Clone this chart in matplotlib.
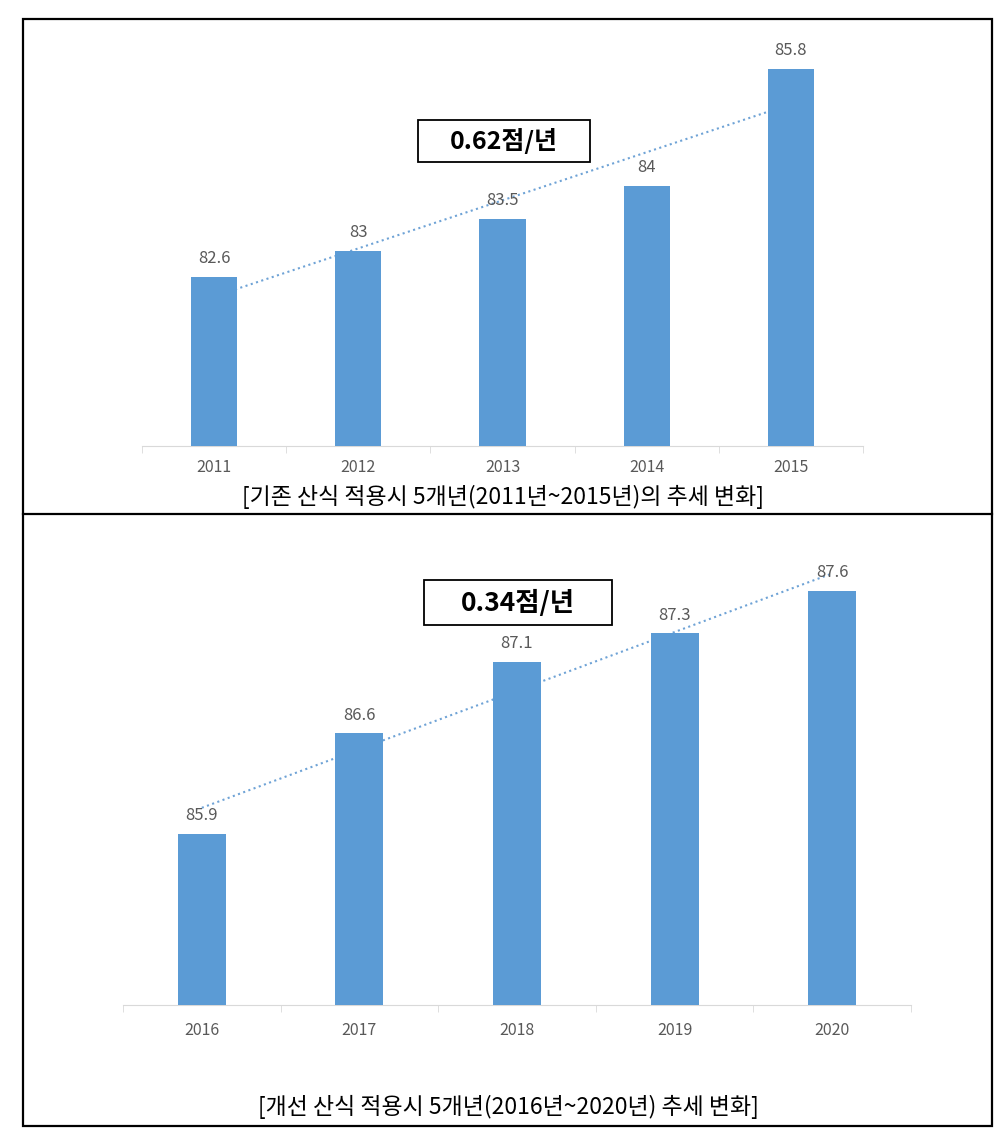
import numpy as np
import matplotlib.pyplot as plt
from matplotlib.patches import Rectangle
from matplotlib.lines import Line2D

plt.rcParams['font.family'] = ['Noto Sans CJK KR', 'DejaVu Sans']

# data
years_a = ['2011', '2012', '2013', '2014', '2015']
scores_a = [82.6, 83.0, 83.5, 84.0, 85.8]
rate_a = '0.62점/년'
caption_a = '[기존 산식 적용시 5개년(2011년~2015년)의 추세 변화]'

years_b = ['2016', '2017', '2018', '2019', '2020']
scores_b = [85.9, 86.6, 87.1, 87.3, 87.6]
rate_b = '0.34점/년'
caption_b = '[개선 산식 적용시 5개년(2016년~2020년) 추세 변화]'

BAR = '#5B9BD5'
TXT = '#595959'
W, H = 1006, 1135

fig = plt.figure(figsize=(W / 100, H / 100), dpi=100)


def px_axes(left, top, right, bottom):
    return fig.add_axes([left / W, 1 - bottom / H, (right - left) / W, (bottom - top) / H])


def draw_panel(ax, years, scores, ylim, width, pad):
    x = np.arange(len(years))
    ax.bar(x, scores, width=width, color=BAR, zorder=3)
    # linear trend line (Excel style)
    slope, icpt = np.polyfit(x, scores, 1)
    ax.plot(x, slope * x + icpt, ls=':', color='#6FA3D6', lw=1.5, zorder=2)
    for xi, v in zip(x, scores):
        ax.annotate(f'{v:g}', (xi, v), xytext=(0, 7), textcoords='offset points',
                    ha='center', va='bottom', fontsize=12, color=TXT)
    ax.set_xlim(-0.5, len(years) - 0.5)
    ax.set_ylim(*ylim)
    for s in ['top', 'left', 'right']:
        ax.spines[s].set_visible(False)
    ax.spines['bottom'].set_color('#D9D9D9')
    ax.set_yticks([])
    ax.set_xticks(x, years)
    ax.set_xticks(np.arange(-0.5, len(years), 1), minor=True)
    ax.tick_params(axis='x', which='major', length=0, pad=pad, labelsize=11.5, labelcolor=TXT)
    ax.tick_params(axis='x', which='minor', length=5, color='#D9D9D9')


ax1 = px_axes(142, 30, 863, 446)
draw_panel(ax1, years_a, scores_a, (80, 86.4), 0.32, 9)

ax2 = px_axes(123, 562, 911, 1005)
draw_panel(ax2, years_b, scores_b, (84.7, 87.8), 0.305, 12)

# overlay for frame, rate boxes and captions
ov = fig.add_axes([0, 0, 1, 1], zorder=5)
ov.set_xlim(0, W)
ov.set_ylim(H, 0)
ov.axis('off')
ov.patch.set_alpha(0)

ov.add_patch(Rectangle((23, 19), 969, 1107, fill=False, ec='black', lw=1.6))
ov.add_line(Line2D([23, 992], [514, 514], color='black', lw=1.6))

ov.add_patch(Rectangle((418, 120), 172, 42, fc='white', ec='black', lw=1.3))
ov.text(504, 141, rate_a, ha='center', va='center', fontsize=18, fontweight='bold')
ov.add_patch(Rectangle((424, 580), 188, 45, fc='white', ec='black', lw=1.3))
ov.text(518, 603, rate_b, ha='center', va='center', fontsize=19, fontweight='bold')

ov.text(503, 497, caption_a, ha='center', va='center', fontsize=16.5, color='black')
ov.text(508, 1107, caption_b, ha='center', va='center', fontsize=16.5, color='black')

fig.savefig('out.png', dpi=100)
